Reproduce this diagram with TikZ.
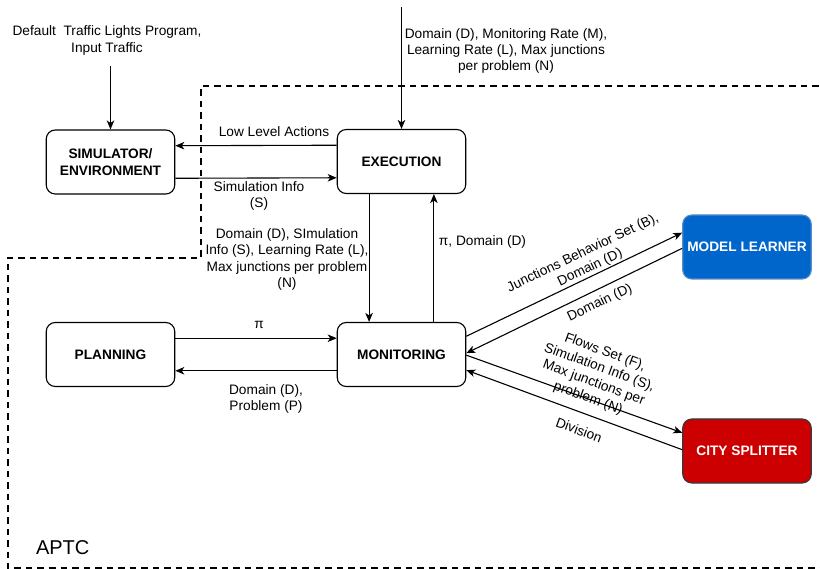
\documentclass[tikz,border=0pt]{standalone}
\usepackage{fontspec}
\setmainfont{Liberation Sans}
\usetikzlibrary{arrows.meta,calc}
\definecolor{mlblue}{HTML}{0066CC}
\definecolor{mlborder}{HTML}{5A8CC8}
\definecolor{csred}{HTML}{CC0000}
\definecolor{csborder}{HTML}{36393D}

\begin{document}
\begin{tikzpicture}[x=1pt,y=-1pt,
  box/.style={draw, line width=1.1pt, rounded corners=9pt,
    minimum width=128.5pt, minimum height=64pt, inner sep=0pt, align=center,
    font=\fontsize{13.7}{16.4}\selectfont\bfseries},
  flow/.style={draw, line width=1.1pt, -{Stealth[length=9pt,width=7.5pt,inset=2.5pt]}},
  lbl/.style={align=center, inner sep=0pt, font=\fontsize{13.7}{16.4}\selectfont},
  zone/.style={draw, line width=2pt, dash pattern=on 6.5pt off 5pt}
]
\useasboundingbox (0,0) rectangle (820,569);
\clip (0,0) rectangle (820,569);

% APTC boundary
\draw[zone] (830,86) -- (201,86) -- (201,258) -- (7.5,258) -- (7.5,567.5) -- (830,567.5);

% components
\node[box] (sim) at (110.5,162) {SIMULATOR/\\ENVIRONMENT};
\node[box] (exe) at (401.5,161.5) {EXECUTION};
\node[box] (plan) at (110.5,354.5) {PLANNING};
\node[box] (mon) at (401.5,354.5) {MONITORING};
\node[box, fill=mlblue, draw=mlborder, text=white] (ml) at (747,247) {MODEL LEARNER};
\node[box, fill=csred, draw=csborder, text=white] (cs) at (747,451) {CITY SPLITTER};

% external inputs
\coordinate (inSim) at (sim.north |- 0,66);
\coordinate (inExe) at (exe.north |- 0,7);
\draw[flow] (inSim) -- (sim.north);
\draw[flow] (inExe) -- (exe.north);

% simulator <-> execution
\draw[flow] ($(exe.north west)!0.25!(exe.south west)$) -- ($(sim.north east)!0.25!(sim.south east)$);
\draw[flow] ($(sim.north east)!0.75!(sim.south east)$) -- ($(exe.north west)!0.75!(exe.south west)$);

% execution <-> monitoring
\draw[flow] ($(exe.south west)!0.25!(exe.south east)$) -- ($(mon.north west)!0.25!(mon.north east)$);
\draw[flow] ($(mon.north west)!0.75!(mon.north east)$) -- ($(exe.south west)!0.75!(exe.south east)$);

% planning <-> monitoring
\draw[flow] ($(plan.north east)!0.25!(plan.south east)$) -- ($(mon.north west)!0.25!(mon.south west)$);
\draw[flow] ($(mon.north west)!0.75!(mon.south west)$) -- ($(plan.north east)!0.75!(plan.south east)$);

% monitoring <-> model learner
\draw[flow] ($(mon.north east)!0.22!(mon.south east)$) -- ($(ml.north west)!0.28!(ml.south west)$);
\draw[flow] ($(ml.north west)!0.52!(ml.south west)$) -- ($(mon.north east)!0.48!(mon.south east)$);

% monitoring <-> city splitter
\draw[flow] ($(mon.north east)!0.51!(mon.south east)$) -- ($(cs.north west)!0.22!(cs.south west)$);
\draw[flow] ($(cs.north west)!0.48!(cs.south west)$) -- ($(mon.north east)!0.74!(mon.south east)$);

% labels
\node[lbl] (lTop) at (107,40.5) {Default\ \ Traffic Lights Program,\\Input Traffic};
\node[lbl] (lCfg) at (506,51) {Domain (D), Monitoring Rate (M),\\Learning Rate (L), Max junctions\\per problem (N)};
\node[lbl] (lLow) at (274,132) {Low Level Actions};
\node[lbl] (lSim) at (259,196) {Simulation Info\\(S)};
\node[lbl] (lDown) at (287,259.5) {Domain (D), SImulation\\Info (S), Learning Rate (L),\\Max junctions per problem\\(N)};
\node[lbl] (lUp) at (482.5,241.5) {π, Domain (D)};
\node[lbl] (lPi) at (259,325) {π};
\node[lbl] (lDP) at (266,398.7) {Domain (D),\\Problem (P)};
\node[lbl, rotate=25.6] (lB) at (586.5,260.5) {Junctions Behavior Set (B),\\Domain (D)};
\node[lbl, rotate=25.6] (lD) at (600,303) {Domain (D)};
\node[lbl, rotate=-20.2] (lF) at (596.5,375.5) {Flows Set (F),\\Simulation Info (S),\\Max junctions per\\problem (N)};
\node[lbl, rotate=-20.2] (lDiv) at (579,430) {Division};
\node[lbl, font=\fontsize{20}{24}\selectfont] (aptc) at (62.7,548) {APTC};
\end{tikzpicture}
\end{document}
